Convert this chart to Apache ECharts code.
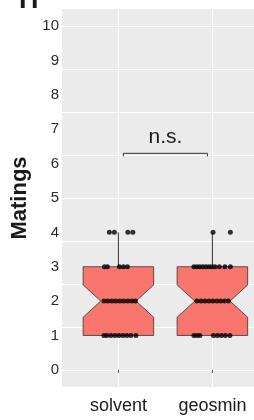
<!DOCTYPE html>
<html>
<head>
<meta charset="utf-8">
<script src="https://cdn.jsdelivr.net/npm/echarts@6/dist/echarts.min.js"></script>
<style>
  html, body { margin: 0; padding: 0; background: #fff; }
  #chart { width: 254px; height: 420px; }
</style>
</head>
<body>
<div id="chart"></div>
<script>
const categories = ["solvent", "geosmin"];
const q1 = [1, 1];
const median = [2, 2];
const q3 = [3, 3];
const whiskerLow = [1, 1];
const whiskerHigh = [4, 4];
const notchLow = [1.53, 1.53];
const notchHigh = [2.47, 2.47];

const yTickLabels = [0, 1, 2, 3, 4, 5, 6, 7, 8, 9, 10];
const yGridLines = [0, 1.25, 2.5, 3.75, 5, 6.25, 7.5, 8.75, 10];

// jittered points: [x position in category units, matings]
const solventPoints = [
  [0.904, 4], [0.957, 4], [1.101, 4], [1.154, 4],
  [0.851, 3], [0.883, 3], [1.011, 3], [1.053, 3], [1.096, 3],
  [0.846, 2], [0.888, 2], [0.931, 2], [0.973, 2], [1.016, 2], [1.058, 2], [1.101, 2], [1.144, 2], [1.181, 2],
  [0.846, 1], [0.878, 1], [0.920, 1], [0.963, 1], [1.005, 1], [1.048, 1], [1.090, 1], [1.133, 1], [1.186, 1]
];
const geosminPoints = [
  [2.007, 4], [2.191, 4],
  [1.803, 3], [1.835, 3], [1.867, 3], [1.899, 3], [1.931, 3], [1.963, 3], [1.995, 3], [2.027, 3], [2.074, 3], [2.133, 3], [2.191, 3],
  [1.835, 2], [1.878, 2], [1.920, 2], [1.963, 2], [2.005, 2], [2.048, 2], [2.090, 2], [2.133, 2], [2.170, 2],
  [1.803, 1], [1.835, 1], [1.867, 1], [2.011, 1], [2.053, 1], [2.096, 1], [2.138, 1], [2.186, 1]
];

const sigLabel = "n.s.";
const sigY = 6.3;

const chart = echarts.init(document.getElementById("chart"));
const font = "Liberation Sans";

const boxData = categories.map((c, i) => [i + 1, whiskerLow[i], q1[i], median[i], q3[i], whiskerHigh[i], notchLow[i], notchHigh[i]]);

function renderBox(params, api) {
  const x = api.value(0);
  const half = 0.375, nh = half * 0.5;
  const p = (dx, y) => api.coord([x + dx, y]);
  const lo = api.value(1), b1 = api.value(2), med = api.value(3), b3 = api.value(4), hi = api.value(5);
  const nl = api.value(6), nu = api.value(7);
  const lineStyle = { stroke: "#333333", lineWidth: 1 };
  return {
    type: "group",
    children: [
      { type: "line", shape: { x1: p(0, b3)[0], y1: p(0, b3)[1], x2: p(0, hi)[0], y2: p(0, hi)[1] }, style: lineStyle },
      { type: "line", shape: { x1: p(0, b1)[0], y1: p(0, b1)[1], x2: p(0, lo)[0], y2: p(0, lo)[1] }, style: lineStyle },
      {
        type: "polygon",
        shape: {
          points: [
            p(-half, b3), p(half, b3), p(half, nu), p(nh, med), p(half, nl),
            p(half, b1), p(-half, b1), p(-half, nl), p(-nh, med), p(-half, nu)
          ]
        },
        style: { fill: "#F8766D", stroke: "#333333", lineWidth: 0.8 }
      }
    ]
  };
}

function renderSig(params, api) {
  const a = api.coord([1.053, sigY]);
  const b = api.coord([1.947, sigY]);
  const t = api.coord([1.5, sigY]);
  return {
    type: "group",
    children: [
      {
        type: "polyline",
        shape: { points: [[a[0], a[1] + 3], a, b, [b[0], b[1] + 3]] },
        style: { stroke: "#333333", lineWidth: 1, fill: null }
      },
      {
        type: "text",
        x: t[0], y: t[1] - 6,
        style: { text: sigLabel, font: "21px " + font, fill: "#1a1a1a", align: "center", verticalAlign: "bottom" }
      }
    ]
  };
}

chart.setOption({
  animation: false,
  grid: {
    left: 62, top: 9, right: 0, bottom: 33,
    show: true, backgroundColor: "#EBEBEB", borderWidth: 0
  },
  xAxis: {
    type: "value",
    // panel runs past the right edge of the picture (cropped)
    min: 0.4, max: 2.4426,
    axisLine: { show: false },
    axisTick: { show: true, length: 3, lineStyle: { color: "#555" }, customValues: [1, 2] },
    axisLabel: {
      customValues: [1, 2], margin: 10,
      formatter: v => categories[Math.round(v) - 1] || "",
      fontFamily: font, fontSize: 18, color: "#1a1a1a"
    },
    splitLine: { show: true, lineStyle: { color: "#ffffff", width: 1 } }
  },
  yAxis: {
    type: "value",
    min: -0.5, max: 10.5,
    name: "Matings",
    nameLocation: "middle",
    nameGap: 23,
    nameRotate: 90,
    nameTextStyle: { fontFamily: font, fontSize: 22, fontWeight: "bold", color: "#1a1a1a" },
    axisLine: { show: false },
    axisTick: { show: false, customValues: yGridLines },
    axisLabel: { customValues: yTickLabels, margin: 3, fontFamily: font, fontSize: 15, color: "#2b2b2b" },
    splitLine: { show: true, lineStyle: { color: "#ffffff", width: 1 } }
  },
  graphic: [
    { type: "text", left: 19, top: -13, style: { text: "H", font: "bold 27px " + font, fill: "#1a1a1a" } }
  ],
  series: [
    { type: "custom", renderItem: renderBox, data: boxData, z: 2, encode: { x: 0, y: [1, 5] } },
    { type: "scatter", data: solventPoints, symbolSize: 5, itemStyle: { color: "#000" }, z: 3 },
    { type: "scatter", data: geosminPoints, symbolSize: 5, itemStyle: { color: "#000" }, z: 3 },
    { type: "custom", renderItem: renderSig, data: [[1.5, sigY]], z: 4 }
  ]
});
</script>
</body>
</html>
